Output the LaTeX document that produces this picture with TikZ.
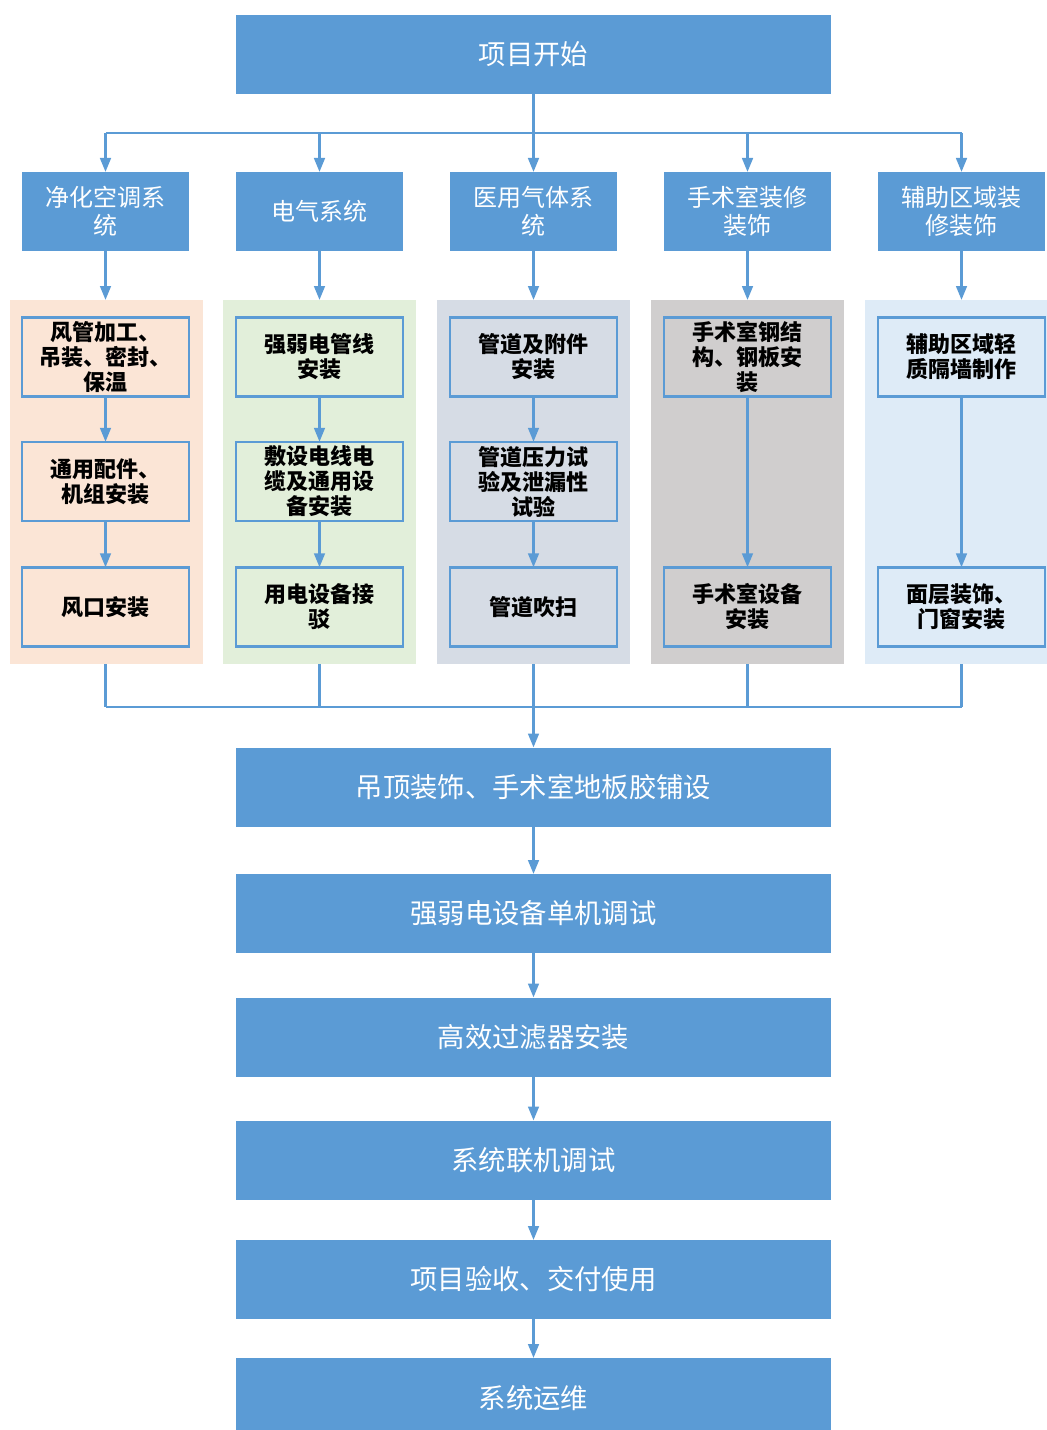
\documentclass[tikz,border=0pt]{standalone}
\usepackage{fontspec}
\setmainfont{Noto Sans CJK SC}
\usetikzlibrary{arrows.meta}
\definecolor{mblue}{HTML}{5B9BD5}
\definecolor{pA}{HTML}{FBE5D6}
\definecolor{pB}{HTML}{E2EFDA}
\definecolor{pC}{HTML}{D6DCE5}
\definecolor{pD}{HTML}{D0CECE}
\definecolor{pE}{HTML}{DEEBF7}
\tikzset{
  mainbox/.style={fill=mblue, text=white, inner sep=0pt, outer sep=0pt,
    minimum width=446.25pt, minimum height=59.25pt, align=center,
    font=\fontsize{20.5}{24}\selectfont},
  catbox/.style={fill=mblue, text=white, inner sep=0pt, outer sep=0pt,
    minimum width=125.25pt, minimum height=59.25pt, align=center,
    font=\fontsize{18}{21}\selectfont},
  panel/.style={inner sep=0pt, outer sep=0pt, minimum width=144.75pt, minimum height=273pt},
  inbox/.style={draw=mblue, line width=1.9pt, inner sep=0pt, outer sep=0pt,
    minimum width=125pt, minimum height=59.5pt, align=center,
    font=\fontsize{16.5}{18.75}\selectfont\bfseries},
  conn/.style={draw=mblue, line width=1.9pt},
  arr/.style={conn, -{Triangle[width=8pt,length=10.5pt]}},
}
\begin{document}
\begin{tikzpicture}[x=0.75pt,y=-0.75pt]
\useasboundingbox (0,0) rectangle (1046,1430);
% panels
\node[panel, fill=pA] (p1) at (106.5,482) {};
\node[panel, fill=pB] (p2) at (319.5,482) {};
\node[panel, fill=pC] (p3) at (533.5,482) {};
\node[panel, fill=pD] (p4) at (747.5,482) {};
\node[panel, fill=pE] (p5) at (961.5,482) {};
% top
\node[mainbox] (top) at (533.5,54.5) {项目开始};
% categories
\node[catbox] (c1) at (105.5,211.5) {净化空调系\\统};
\node[catbox] (c2) at (319.5,211.5) {电气系统};
\node[catbox] (c3) at (533.5,211.5) {医用气体系\\统};
\node[catbox] (c4) at (747.5,211.5) {手术室装修\\装饰};
\node[catbox] (c5) at (961.5,211.5) {辅助区域装\\修装饰};
% inner boxes
\node[inbox] (a1) at (105.5,357) {风管加工、\\吊装、密封、\\保温};
\node[inbox] (a2) at (105.5,481.5) {通用配件、\\机组安装};
\node[inbox] (a3) at (105.5,607) {风口安装};
\node[inbox] (b1) at (319.5,357) {强弱电管线\\安装};
\node[inbox] (b2) at (319.5,481.5) {敷设电线电\\缆及通用设\\备安装};
\node[inbox] (b3) at (319.5,607) {用电设备接\\驳};
\node[inbox] (d1) at (533.5,357) {管道及附件\\安装};
\node[inbox] (d2) at (533.5,481.5) {管道压力试\\验及泄漏性\\试验};
\node[inbox] (d3) at (533.5,607) {管道吹扫};
\node[inbox] (e1) at (747.5,357) {手术室钢结\\构、钢板安\\装};
\node[inbox] (e3) at (747.5,607) {手术室设备\\安装};
\node[inbox] (f1) at (961.5,357) {辅助区域轻\\质隔墙制作};
\node[inbox] (f3) at (961.5,607) {面层装饰、\\门窗安装};
% bottom chain
\node[mainbox] (m1) at (533.5,787) {吊顶装饰、手术室地板胶铺设};
\node[mainbox] (m2) at (533.5,913.5) {强弱电设备单机调试};
\node[mainbox] (m3) at (533.5,1037) {高效过滤器安装};
\node[mainbox] (m4) at (533.5,1160) {系统联机调试};
\node[mainbox] (m5) at (533.5,1279.5) {项目验收、交付使用};
\node[mainbox, minimum height=60pt] (m6) at (533.5,1398) {系统运维};
% top bus
\coordinate (busT) at (533.5,133);
\draw[conn] (top.south) -- (busT);
\draw[conn] (c1 |- busT) -- (c5 |- busT);
\foreach \c in {c1,c2,c3,c4,c5} \draw[arr] (\c |- busT) -- (\c.north);
% category to panel
\draw[arr] (c1.south) -- (c1 |- p1.north);
\draw[arr] (c2.south) -- (c2 |- p2.north);
\draw[arr] (c3.south) -- (c3 |- p3.north);
\draw[arr] (c4.south) -- (c4 |- p4.north);
\draw[arr] (c5.south) -- (c5 |- p5.north);
% within panels
\draw[arr] (a1) -- (a2);
\draw[arr] (a2) -- (a3);
\draw[arr] (b1) -- (b2);
\draw[arr] (b2) -- (b3);
\draw[arr] (d1) -- (d2);
\draw[arr] (d2) -- (d3);
\draw[arr] (e1) -- (e3);
\draw[arr] (f1) -- (f3);
% bottom bus
\coordinate (busB) at (533.5,707);
\draw[conn] (c1 |- p1.south) -- (c1 |- busB);
\draw[conn] (c2 |- p2.south) -- (c2 |- busB);
\draw[conn] (c3 |- p3.south) -- (c3 |- busB);
\draw[conn] (c4 |- p4.south) -- (c4 |- busB);
\draw[conn] (c5 |- p5.south) -- (c5 |- busB);
\draw[conn] (c1 |- busB) -- (c5 |- busB);
\draw[arr] (busB) -- (m1.north);
\draw[arr] (m1) -- (m2);
\draw[arr] (m2) -- (m3);
\draw[arr] (m3) -- (m4);
\draw[arr] (m4) -- (m5);
\draw[arr] (m5) -- (m6);
\end{tikzpicture}
\end{document}
